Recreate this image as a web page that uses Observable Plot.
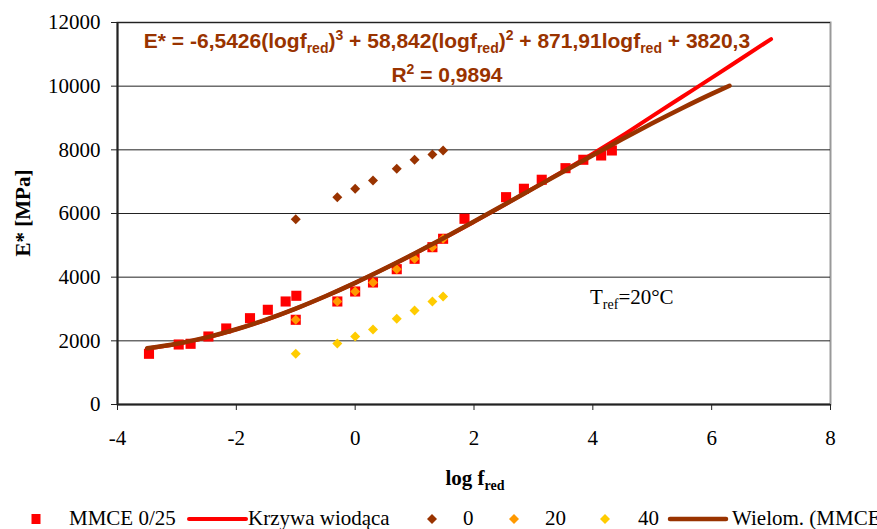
<!DOCTYPE html>
<html>
<head>
<meta charset="utf-8">
<script src="https://cdn.jsdelivr.net/npm/d3@7"></script>
<script src="https://cdn.jsdelivr.net/npm/@observablehq/plot@0.6"></script>
<style>
  html, body { margin: 0; padding: 0; background: #fff; overflow: hidden; }
  #wrap { position: relative; width: 877px; height: 529px; overflow: hidden; font-family: "Liberation Serif", "Times New Roman", serif; }
  #chart svg text { font-family: "Liberation Serif", "Times New Roman", serif; }
  .ann { position: absolute; white-space: nowrap; line-height: 24px; }
  .eq { font-family: "Liberation Sans", Arial, sans-serif; font-weight: bold; font-size: 21px; color: #993300; text-align: center; }
  .sub { font-size: 14px; position: relative; top: 5px; }
  .sup { font-size: 14px; position: relative; top: -8px; }
  .leg { position: absolute; top: 508px; height: 21px; line-height: 21px; font-size: 21px; white-space: nowrap; color: #000; }
  .sym { position: absolute; }
</style>
</head>
<body>
<div id="wrap">
  <div id="chart"></div>
</div>
<script>
// ---------- data ----------
const xTicks = [-4, -2, 0, 2, 4, 6, 8];
const yTicks = [0, 2000, 4000, 6000, 8000, 10000, 12000];

// log frequency of measurements (Hz: 0.1, 0.5, 1, 2, 5, 10, 20, 30)
const logFreq = [-1, -0.3, 0, 0.3, 0.7, 1.0, 1.3, 1.48];
const e0  = [5822, 6513, 6777, 7037, 7404, 7688, 7854, 7980];
const e20 = [2661, 3236, 3550, 3833, 4251, 4577, 4942, 5206];
const e40 = [1593, 1916, 2136, 2356, 2692, 2953, 3236, 3393];

// MMCE 0/25 shifted points (master curve data)
const mmceX = [-3.47, -2.97, -2.77, -2.47, -2.17, -1.77, -1.47, -1.17, -0.99,
               -1, -0.3, 0, 0.3, 0.7, 1.0, 1.3, 1.48,
               1.84, 2.54, 2.84, 3.14, 3.54, 3.84, 4.14, 4.32];
const mmceY = [1593, 1885, 1907, 2136, 2388, 2711, 2975, 3236, 3415,
               2661, 3236, 3550, 3833, 4251, 4577, 4942, 5206,
               5834, 6513, 6777, 7060, 7424, 7688, 7823, 7980];

// Krzywa wiodąca (master curve)
const masterX = [-3.5, -3, -2.5, -2, -1.5, -1, -0.5, 0, 0.5, 1, 1.5, 2, 2.5, 3, 3.5, 4, 4.5, 5, 5.5, 6, 6.5, 7];
const masterY = [1760, 1900, 2100, 2360, 2660, 3010, 3400, 3820, 4270, 4740, 5230, 5740, 6260, 6790, 7330, 7880, 8450, 9060, 9660, 10260, 10870, 11480];

// Wielom. (MMCE 0/25) trend line
const polyX = [-3.5, -3, -2.5, -2, -1.5, -1, -0.5, 0, 0.5, 1, 1.5, 2, 2.5, 3, 3.5, 4, 4.5, 5, 5.5, 6, 6.3];
const polyY = [1770, 1911, 2110, 2364, 2667, 3014, 3400, 3820, 4270, 4744, 5238, 5747, 6266, 6789, 7312, 7831, 8339, 8833, 9307, 9757, 10013];

const legendLabels = ["MMCE 0/25", "Krzywa wiodąca", "0", "20", "40", "Wielom. (MMCE 0/25)"];
const colors = { red: "#FF0000", brown: "#993300", orange: "#FF9900", yellow: "#FFCC00" };

// ---------- build tables ----------
const zip = (xs, ys) => xs.map((x, i) => ({ x, y: ys[i] }));
const mmce = zip(mmceX, mmceY);
const master = zip(masterX, masterY);
const poly = zip(polyX, polyY);
const d0 = zip(logFreq, e0);
const d20 = zip(logFreq, e20);
const d40 = zip(logFreq, e40);

const serif = "Liberation Serif";
const plot = Plot.plot({
  width: 877,
  height: 506,
  marginLeft: 117,
  marginRight: 47,
  marginTop: 22,
  marginBottom: 102,
  style: { fontFamily: serif, fontSize: "21px", color: "#000", background: "transparent" },
  x: { domain: [-4, 8] },
  y: { domain: [0, 12000] },
  marks: [
    Plot.frame({ stroke: "#999", strokeWidth: 2 }),
    Plot.gridY(yTicks, { stroke: "#222", strokeOpacity: 1, strokeWidth: 1 }),
    Plot.ruleX([-4], { stroke: "#222", strokeWidth: 2 }),
    Plot.ruleY([0], { stroke: "#222", strokeWidth: 2 }),
    Plot.axisX(xTicks, { tickSize: 6, tickPadding: 20, label: null, fontSize: 21, fontFamily: serif, tickFormat: d => String(d), stroke: "#222" }),
    Plot.axisY(yTicks, { tickSize: 6, tickPadding: 11, label: null, fontSize: 21, fontFamily: serif, tickFormat: d => String(d), stroke: "#222" }),
    Plot.dot(mmce, { x: "x", y: "y", symbol: "square", fill: colors.red, r: 5.7 }),
    Plot.line(master, { x: "x", y: "y", stroke: colors.red, strokeWidth: 4, curve: "monotone-x", strokeLinecap: "round" }),
    Plot.dot(d0, { x: "x", y: "y", symbol: "diamond2", fill: colors.brown, r: 4.5 }),
    Plot.dot(d20, { x: "x", y: "y", symbol: "diamond2", fill: colors.orange, r: 4.5 }),
    Plot.dot(d40, { x: "x", y: "y", symbol: "diamond2", fill: colors.yellow, r: 4.5 }),
    Plot.line(poly, { x: "x", y: "y", stroke: colors.brown, strokeWidth: 4.5, curve: "monotone-x", strokeLinecap: "round" })
  ]
});
document.getElementById("chart").appendChild(plot);

// ---------- annotations ----------
const wrap = document.getElementById("wrap");
function addDiv(cls, style, html) {
  const d = document.createElement("div");
  d.className = cls;
  d.setAttribute("style", style);
  d.innerHTML = html;
  wrap.appendChild(d);
  return d;
}
addDiv("ann eq", "left:47px;width:800px;top:29px;",
  'E* = -6,5426(logf<span class="sub">red</span>)<span class="sup">3</span> + 58,842(logf<span class="sub">red</span>)<span class="sup">2</span> + 871,91logf<span class="sub">red</span> + 3820,3');
addDiv("ann eq", "left:47px;width:800px;top:63px;",
  'R<span class="sup">2</span> = 0,9894');
addDiv("ann", "left:590px;top:285px;font-size:21px;",
  'T<span class="sub">ref</span>=20°C');
addDiv("ann", "left:375px;width:200px;text-align:center;top:466px;font-size:21px;font-weight:bold;",
  'log f<span class="sub">red</span>');
addDiv("ann", "left:23px;top:213px;font-size:21px;font-weight:bold;transform:translate(-50%,-50%) rotate(-90deg);",
  'E* [MPa]');

// ---------- legend ----------
function sym(x, html) {
  const s = document.createElementNS("http://www.w3.org/2000/svg", "svg");
  s.setAttribute("width", 70); s.setAttribute("height", 21);
  s.setAttribute("class", "sym");
  s.style.left = (x - 35) + "px"; s.style.top = "508px";
  s.innerHTML = html;
  wrap.appendChild(s);
}
const lx = [69, 248, 463, 545, 638, 732];
legendLabels.forEach((t, i) => addDiv("leg", "left:" + lx[i] + "px;", t));
sym(36, '<rect x="30.5" y="6" width="9" height="10" fill="' + colors.red + '"/>');
sym(218, '<line x1="6" x2="63" y1="11" y2="11" stroke="' + colors.red + '" stroke-width="4" stroke-linecap="round"/>');
sym(432, '<path d="M35,6 L40,11 L35,16 L30,11Z" fill="' + colors.brown + '"/>');
sym(514, '<path d="M35,6 L40,11 L35,16 L30,11Z" fill="' + colors.orange + '"/>');
sym(605, '<path d="M35,6 L40,11 L35,16 L30,11Z" fill="' + colors.yellow + '"/>');
sym(698, '<line x1="7" x2="63" y1="11" y2="11" stroke="' + colors.brown + '" stroke-width="4.5" stroke-linecap="round"/>');
</script>
</body>
</html>
